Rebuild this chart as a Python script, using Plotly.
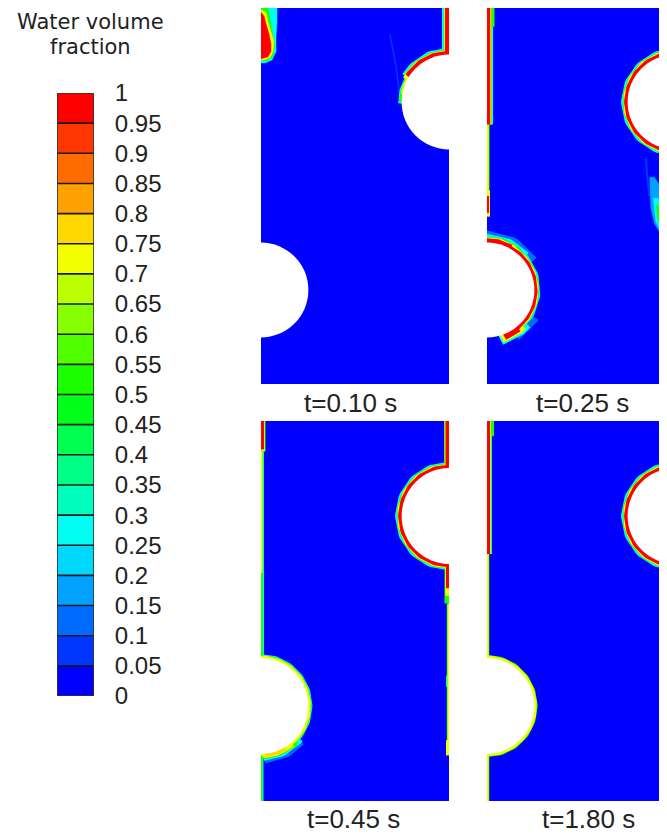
import numpy as np
import plotly.graph_objects as go

# ---------------- data ----------------
TIME_LABELS = ["t=0.10 s", "t=0.25 s", "t=0.45 s", "t=1.80 s"]
CB_TITLE_LINES = ["Water volume", "fraction"]
CB_TICK_VALUES = [0, 0.05, 0.1, 0.15, 0.2, 0.25, 0.3, 0.35, 0.4, 0.45, 0.5,
                  0.55, 0.6, 0.65, 0.7, 0.75, 0.8, 0.85, 0.9, 0.95, 1]
CB_TICK_TEXT = ["0", "0.05", "0.1", "0.15", "0.2", "0.25", "0.3", "0.35", "0.4", "0.45", "0.5",
                "0.55", "0.6", "0.65", "0.7", "0.75", "0.8", "0.85", "0.9", "0.95", "1"]
BAND_CENTERS = [0.025, 0.075, 0.125, 0.175, 0.225, 0.275, 0.325, 0.375, 0.425, 0.475,
                0.525, 0.575, 0.625, 0.675, 0.725, 0.775, 0.825, 0.875, 0.925, 0.975]
BAND_INDEX = list(range(20))

# geometry of each channel (data units: width 50, height 100)
CIRCLE_R = 12.6
CIRCLE_CX = {"L": 0.0, "R": 50.0}
CIRCLE_CY = {"L": 25.0, "R": 75.0}

# wall films: (wall side, y from, y to, volume fraction, line width px)
P1_WALLS = [("R", 87.6, 100, 0.27, 14), ("R", 87.6, 100, 0.52, 11),
            ("R", 87.6, 100, 0.72, 9.5), ("R", 87.6, 100, 0.97, 8)]
# arc films on cylinders: (cylinder, angle from, angle to, volume fraction, width px)
P1_ARCS = [("R", 90, 150, 0.27, 14), ("R", 90, 150, 0.52, 11), ("R", 90, 152, 0.72, 9.5),
           ("R", 90, 148, 0.97, 8), ("R", 148, 182, 0.27, 7), ("R", 148, 180, 0.52, 5),
           ("R", 148, 170, 0.72, 3.5)]
# droplets / blobs: (volume fraction, x outline, y outline)
P1_BLOBS = [
    (0.27, [0, 4.26, 4.26, 3.99, 3.99, 2.93, 1.06, 0], [100, 100, 96.3, 92.3, 88.4, 86.2, 85.4, 85.4]),
    (0.52, [0, 1.86, 2.39, 3.19, 3.72, 3.19, 1.60, 0], [100, 100, 96.8, 93.1, 89.9, 87.0, 86.0, 86.0]),
    (0.72, [0, 1.33, 1.86, 2.66, 3.46, 3.19, 2.39, 0.80, 0], [99.5, 98.9, 96.3, 93.7, 91.0, 88.4, 86.8, 86.2, 86.2]),
    (0.97, [0, 0.80, 1.33, 2.13, 2.66, 2.66, 1.86, 0.53, 0], [98.9, 97.9, 95.8, 93.1, 90.5, 88.4, 87.0, 86.5, 86.5]),
]
# faint streaks: (volume fraction, width px, x points, y points)
P1_STREAKS = [(0.06, 1.5, [37.0, 36.0, 34.3], [75.9, 84.0, 92.9])]

P2_WALLS = [("L", 69, 100, 0.27, 12), ("L", 95, 100, 0.52, 15), ("L", 69, 100, 0.52, 10),
            ("L", 69, 100, 0.72, 8.5), ("L", 69, 100, 0.97, 6.5), ("L", 47, 69, 0.52, 5),
            ("L", 47, 69, 0.72, 3.5), ("L", 44.5, 51.5, 0.72, 6), ("L", 45.5, 50, 0.97, 4)]
P2_ARCS = [("R", 90, 270, 0.27, 13), ("R", 90, 270, 0.52, 10.5), ("R", 90, 270, 0.72, 9),
           ("R", 90, 270, 0.97, 7),
           ("L", 30, 92, 0.12, 24), ("L", -75, 92, 0.27, 12), ("L", 40, 92, 0.27, 17),
           ("L", -72, 92, 0.52, 10), ("L", 50, 92, 0.52, 13), ("L", -70, 92, 0.72, 8.5),
           ("L", 55, 92, 0.72, 11), ("L", -68, 92, 0.97, 6.5), ("L", 60, 92, 0.97, 9),
           ("L", -60, -30, 0.12, 24), ("L", -76, -40, 0.27, 20), ("L", -74, -45, 0.72, 16),
           ("L", -70, -50, 0.97, 12)]
P2_BLOBS = [
    (0.15, [43.2, 44.5, 47.9, 47.9, 46.0, 44.6, 43.5], [55.0, 55.0, 50.0, 40.0, 40.3, 42.5, 47.0]),
    (0.27, [44.2, 47.9, 47.9, 46.2, 44.8], [49.5, 49.0, 40.5, 40.8, 43.5]),
    (0.52, [45.0, 47.9, 47.9, 46.5, 45.3], [47.5, 47.5, 41.0, 41.2, 43.8]),
    (0.72, [46.0, 47.9, 47.9, 46.8, 46.0], [46.3, 46.5, 41.3, 41.6, 43.8]),
    (0.97, [46.8, 47.9, 47.9, 47.1], [45.2, 45.5, 41.6, 42.6]),
]
P2_STREAKS = [(0.08, 2.0, [42.3, 42.6, 43.2], [60.0, 55.0, 50.0])]

P3_WALLS = [("L", 92, 100, 0.52, 9), ("L", 92, 100, 0.72, 7.5), ("L", 92.5, 100, 0.97, 6),
            ("L", 38, 92, 0.27, 6), ("L", 38, 92, 0.52, 4.5), ("L", 60, 92, 0.72, 3),
            ("L", 0, 12, 0.27, 5), ("L", 0, 12, 0.52, 3.5),
            ("R", 88, 100, 0.52, 10), ("R", 88, 100, 0.72, 8.5), ("R", 88, 100, 0.97, 7),
            ("R", 52, 62, 0.52, 9), ("R", 54, 62, 0.72, 7.5), ("R", 56, 62, 0.97, 6),
            ("R", 13, 52, 0.52, 4.5), ("R", 13, 52, 0.72, 3), ("R", 12, 16, 0.72, 6),
            ("R", 30, 33, 0.27, 6)]
P3_ARCS = [("R", 90, 270, 0.27, 13), ("R", 90, 270, 0.52, 10.5), ("R", 90, 270, 0.72, 9),
           ("R", 90, 270, 0.97, 7),
           ("L", -90, 90, 0.27, 8), ("L", -90, 90, 0.52, 6.5), ("L", -90, 90, 0.72, 5),
           ("L", -88, -40, 0.12, 20), ("L", -88, -40, 0.27, 14), ("L", -88, -45, 0.52, 11),
           ("L", -88, -50, 0.72, 9), ("L", -85, -60, 0.77, 7)]
P3_BLOBS = []
P3_STREAKS = []

P4_WALLS = [("L", 96, 100, 0.52, 14), ("L", 65, 100, 0.27, 10), ("L", 65, 100, 0.52, 8.5),
            ("L", 65, 100, 0.72, 7.5), ("L", 65, 100, 0.97, 6),
            ("L", 38, 65, 0.52, 4.5), ("L", 38, 65, 0.72, 3.5),
            ("L", 0, 12, 0.52, 4.5), ("L", 0, 12, 0.72, 3.5)]
P4_ARCS = [("R", 90, 270, 0.27, 13), ("R", 90, 270, 0.52, 10.5), ("R", 90, 270, 0.72, 9),
           ("R", 90, 270, 0.97, 7),
           ("L", -90, 90, 0.52, 6.5), ("L", -90, 90, 0.72, 5)]
P4_BLOBS = []
P4_STREAKS = []

# ---------------- style ----------------
BAND_COLORS = [
    "rgb(0,0,255)", "rgb(0,54,255)", "rgb(0,107,255)", "rgb(0,161,255)", "rgb(0,215,255)",
    "rgb(0,255,242)", "rgb(0,255,188)", "rgb(0,255,134)", "rgb(0,255,80)", "rgb(0,255,27)",
    "rgb(27,255,0)", "rgb(80,255,0)", "rgb(134,255,0)", "rgb(188,255,0)", "rgb(242,255,0)",
    "rgb(255,215,0)", "rgb(255,161,0)", "rgb(255,107,0)", "rgb(255,54,0)", "rgb(255,0,0)"]
FONT = "Liberation Sans, Arial, sans-serif"
TITLE_FONT = "DejaVu Sans, Liberation Sans, sans-serif"
TXT = "#222222"
PAGE_OFF = 8            # default page body margin of the html page
W, H = 667 - PAGE_OFF, 836 - PAGE_OFF


def band_color(v):
    return BAND_COLORS[min(int(v * 20), 19)]


def px_x(p):
    return (p - PAGE_OFF) / W


def px_y(p):
    return 1 - (p - PAGE_OFF) / H


PANELS = [
    dict(dx=(261, 449), dy=(6, 384), xr=(0, 50), walls=P1_WALLS, arcs=P1_ARCS, blobs=P1_BLOBS,
         streaks=P1_STREAKS, label=TIME_LABELS[0], lab=(350, 403)),
    dict(dx=(487, 667), dy=(6, 384), xr=(0, 50 * 180 / 188), walls=P2_WALLS, arcs=P2_ARCS,
         blobs=P2_BLOBS, streaks=P2_STREAKS, label=TIME_LABELS[1], lab=(582, 403)),
    dict(dx=(261, 449), dy=(421, 801), xr=(0, 50), walls=P3_WALLS, arcs=P3_ARCS, blobs=P3_BLOBS,
         streaks=P3_STREAKS, label=TIME_LABELS[2], lab=(353, 819)),
    dict(dx=(487, 667), dy=(421, 801), xr=(0, 50 * 180 / 188), walls=P4_WALLS, arcs=P4_ARCS,
         blobs=P4_BLOBS, streaks=P4_STREAKS, label=TIME_LABELS[3], lab=(588, 819)),
]

fig = go.Figure()
layout = dict(template="none", width=W, height=H, margin=dict(l=0, r=0, t=0, b=0, pad=0),
              paper_bgcolor="white", plot_bgcolor="rgb(0,0,255)", showlegend=False)
shapes = []
annotations = []


def clamp(v):
    return max(0.0, min(1.0, v))


for i, p in enumerate(PANELS, start=1):
    sfx = "" if i == 1 else str(i)
    xa, ya = "x" + sfx, "y" + sfx
    layout["xaxis" + sfx] = dict(domain=[clamp(px_x(p["dx"][0])), clamp(px_x(p["dx"][1]))],
                                 range=list(p["xr"]), visible=False, anchor=ya,
                                 fixedrange=True, automargin=False)
    layout["yaxis" + sfx] = dict(domain=[clamp(px_y(p["dy"][1])), clamp(px_y(p["dy"][0]))],
                                 range=[0, 100], visible=False, anchor=xa, fixedrange=True,
                                 automargin=False)
    items = []
    for side, y0, y1, v, w in p["walls"]:
        xw = 0.0 if side == "L" else 50.0
        items.append((v, dict(x=[xw, xw], y=[y0, y1], mode="lines",
                              line=dict(color=band_color(v), width=w))))
    for cyl, a0, a1, v, w in p["arcs"]:
        ang = np.radians(np.linspace(a0, a1, 80))
        items.append((v, dict(x=CIRCLE_CX[cyl] + CIRCLE_R * np.cos(ang),
                              y=CIRCLE_CY[cyl] + CIRCLE_R * np.sin(ang), mode="lines",
                              line=dict(color=band_color(v), width=w))))
    for v, xs, ys in p["blobs"]:
        items.append((v, dict(x=xs, y=ys, mode="lines", fill="toself", fillcolor=band_color(v),
                              line=dict(color=band_color(v), width=0.5))))
    for v, w, xs, ys in p["streaks"]:
        items.append((v, dict(x=xs, y=ys, mode="lines", line=dict(color=band_color(v), width=w))))
    items.sort(key=lambda t: t[0])
    for v, tr in items:
        fig.add_trace(go.Scatter(**tr, xaxis=xa, yaxis=ya, hoverinfo="skip", showlegend=False))
    for cyl in ("L", "R"):
        cx, cy = CIRCLE_CX[cyl], CIRCLE_CY[cyl]
        shapes.append(dict(type="circle", xref=xa, yref=ya, x0=cx - CIRCLE_R, x1=cx + CIRCLE_R,
                           y0=cy - CIRCLE_R, y1=cy + CIRCLE_R, fillcolor="white",
                           line=dict(width=0), layer="above"))
    annotations.append(dict(text=p["label"], x=px_x(p["lab"][0]), y=px_y(p["lab"][1]),
                            xref="paper", yref="paper", showarrow=False, xanchor="center",
                            yanchor="middle", font=dict(family=FONT, size=26, color=TXT)))

# ---- colour legend (banded) ----
layout["xaxis5"] = dict(domain=[px_x(57), px_x(94)], range=[-0.5, 0.5], visible=False,
                        anchor="y5", fixedrange=True, automargin=False)
layout["yaxis5"] = dict(domain=[px_y(696), px_y(93)], range=[0, 1], anchor="x5", side="right",
                        tickvals=CB_TICK_VALUES, ticktext=CB_TICK_TEXT, ticks="outside",
                        ticklen=15, tickcolor="rgba(0,0,0,0)", showgrid=False, zeroline=False,
                        showline=False, fixedrange=True, automargin=False,
                        tickfont=dict(family=FONT, size=24, color=TXT))
cscale = [[k / 19, c] for k, c in enumerate(BAND_COLORS)]
fig.add_trace(go.Heatmap(x=[0], y=BAND_CENTERS, z=[[k] for k in BAND_INDEX], zmin=0, zmax=19,
                         colorscale=cscale, showscale=False, xaxis="x5", yaxis="y5",
                         hoverinfo="skip"))
for t in CB_TICK_VALUES[1:-1]:
    shapes.append(dict(type="line", xref="x5", yref="y5", x0=-0.5, x1=0.5, y0=t, y1=t,
                       line=dict(color="#1a1a1a", width=1.6)))
shapes.append(dict(type="rect", xref="x5", yref="y5", x0=-0.5, x1=0.5, y0=0, y1=1,
                   line=dict(color="#333333", width=1.6)))

annotations.append(dict(text=CB_TITLE_LINES[0], x=px_x(90), y=px_y(22), xref="paper", yref="paper",
                        showarrow=False, xanchor="center", yanchor="middle",
                        font=dict(family=TITLE_FONT, size=21, color=TXT)))
annotations.append(dict(text=CB_TITLE_LINES[1], x=px_x(90), y=px_y(47), xref="paper", yref="paper",
                        showarrow=False, xanchor="center", yanchor="middle",
                        font=dict(family=TITLE_FONT, size=21, color=TXT)))

layout["shapes"] = shapes
layout["annotations"] = annotations
fig.update_layout(**layout)
fig.write_html("out.html")
